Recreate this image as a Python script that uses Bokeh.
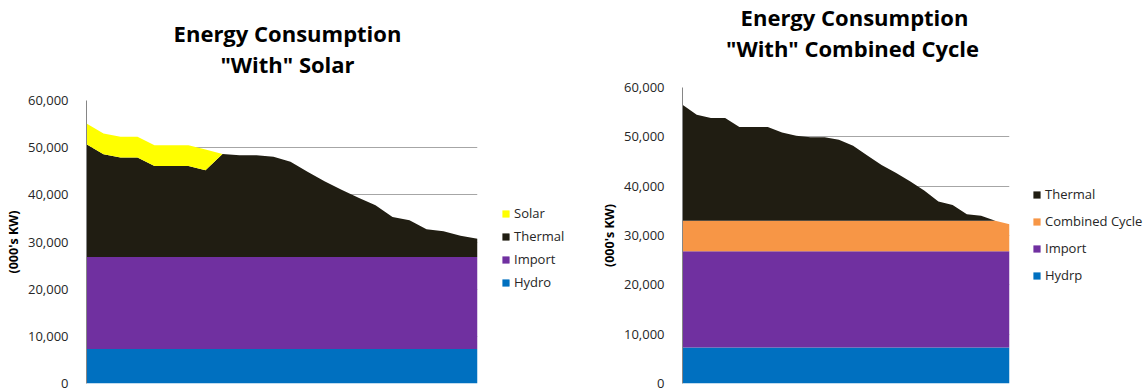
from bokeh.plotting import figure
from bokeh.layouts import row, column
from bokeh.models import (ColumnDataSource, Range1d, Legend, LegendItem, Label,
                          FixedTicker, NumeralTickFormatter)
from bokeh.core.properties import value
from bokeh.embed import file_html
from bokeh.resources import INLINE

# Hourly load profile, in thousands of kW
hours = [1, 2, 3, 4, 5, 6, 7, 8, 9, 10, 11, 12,
         13, 14, 15, 16, 17, 18, 19, 20, 21, 22, 23, 24]
y_ticks = [0, 10000, 20000, 30000, 40000, 50000, 60000]

# Scenario 1: with solar
solar_hydro = [7300, 7300, 7300, 7300, 7300, 7300, 7300, 7300, 7300, 7300, 7300, 7300,
               7300, 7300, 7300, 7300, 7300, 7300, 7300, 7300, 7300, 7300, 7300, 7300]
solar_import = [19500, 19500, 19500, 19500, 19500, 19500, 19500, 19500, 19500, 19500, 19500, 19500,
                19500, 19500, 19500, 19500, 19500, 19500, 19500, 19500, 19500, 19500, 19500, 19500]
solar_thermal = [23900, 21800, 21100, 21100, 19300, 19300, 19300, 18400, 21850, 21600, 21600, 21300,
                 20200, 18100, 16100, 14300, 12600, 11000, 8500, 7800, 5900, 5500, 4500, 3900]
solar_solar = [4400, 4400, 4400, 4400, 4400, 4400, 4400, 4400, 0, 0, 0, 0,
               0, 0, 0, 0, 0, 0, 0, 0, 0, 0, 0, 0]

# Scenario 2: with combined cycle
cc_hydro = [7300, 7300, 7300, 7300, 7300, 7300, 7300, 7300, 7300, 7300, 7300, 7300,
            7300, 7300, 7300, 7300, 7300, 7300, 7300, 7300, 7300, 7300, 7300, 7300]
cc_import = [19500, 19500, 19500, 19500, 19500, 19500, 19500, 19500, 19500, 19500, 19500, 19500,
             19500, 19500, 19500, 19500, 19500, 19500, 19500, 19500, 19500, 19500, 19500, 19500]
cc_combined = [6200, 6200, 6200, 6200, 6200, 6200, 6200, 6200, 6200, 6200, 6200, 6200,
               6200, 6200, 6200, 6200, 6200, 6200, 6200, 6200, 6200, 6200, 6200, 5500]
cc_thermal = [23500, 21500, 20800, 20800, 19000, 19000, 19000, 17900, 17200, 16900, 16900, 16400,
              15200, 13200, 11300, 9700, 8000, 6100, 3900, 3200, 1300, 1000, 0, 0]

FONT = "Open Sans"
C_HYDRO = "#0070C0"
C_IMPORT = "#7030A0"
C_THERMAL = "#201D12"
C_SOLAR = "#FFFF00"
C_CC = "#F79646"

HEIGHT = 392
PAD_TOP = 8      # room for the topmost tick label
BOTTOM = 9


def blank(width, height, x_range, y_range, left=0, right=0):
    f = figure(width=width, height=height, title=None, x_axis_type=None, y_axis_type=None,
               x_range=x_range, y_range=y_range,
               output_backend="svg", toolbar_location=None, min_border=0,
               min_border_left=left, min_border_right=right)
    f.outline_line_color = None
    f.background_fill_color = "white"
    f.border_fill_color = "white"
    return f


def make_title(width, left, frame_w, top_px, lines):
    """Strip above a chart holding its two-line title; coordinates are pixels."""
    h = top_px - PAD_TOP
    t = blank(width, h, Range1d(left, left + frame_w), Range1d(0, h),
              left=left, right=width - left - frame_w)
    for text, cx, cy in lines:
        t.add_layout(Label(x=cx, y=h - cy, text=text, text_align="center",
                           text_baseline="middle", text_font=FONT,
                           text_font_style="bold", text_font_size="22px",
                           text_color="#000000"))
    return t


def make_chart(width, left, frame_w, top_px, src, series):
    p = figure(width=width, height=HEIGHT - top_px + PAD_TOP, title=None,
               x_range=Range1d(hours[0], hours[-1]),
               y_range=Range1d(y_ticks[0], y_ticks[-1]),
               output_backend="svg", toolbar_location=None,
               min_border_left=left, min_border_right=width - left - frame_w,
               min_border_top=PAD_TOP, min_border_bottom=BOTTOM)
    p.background_fill_color = "white"
    p.border_fill_color = "white"
    p.outline_line_color = None

    p.varea_stack(stackers=[s[0] for s in series], x="hour",
                  color=[s[2] for s in series], source=src)

    p.xaxis.visible = False
    p.xgrid.visible = False
    p.ygrid.ticker = FixedTicker(ticks=y_ticks)
    p.ygrid.grid_line_color = "#a6a6a6"

    ax = p.yaxis[0]
    ax.ticker = FixedTicker(ticks=y_ticks)
    ax.formatter = NumeralTickFormatter(format="0,0")
    ax.axis_line_color = "#868686"
    ax.major_tick_line_color = None
    ax.minor_tick_line_color = None
    ax.major_label_text_font = FONT
    ax.major_label_text_font_size = "13px"
    ax.major_label_text_color = "#262626"
    ax.major_label_standoff = 12
    ax.axis_label = "(000's KW)"
    ax.axis_label_text_font = FONT
    ax.axis_label_text_font_size = "12.5px"
    ax.axis_label_text_font_style = "bold"
    ax.axis_label_text_color = "#000000"
    ax.axis_label_standoff = 3
    return p


def make_legend(width, src, series, x, y, spacing):
    """Legend column beside a chart; its stacked areas lie outside the visible range."""
    lf = blank(width, HEIGHT, Range1d(-1, 0), Range1d(0, 1))
    rends = lf.varea_stack(stackers=[s[0] for s in series], x="hour",
                           color=[s[2] for s in series], source=src)
    items = [LegendItem(label=value(s[1]), renderers=[r]) for s, r in zip(series, rends)]
    lf.add_layout(Legend(items=list(reversed(items)), location=(x, y),
                         glyph_width=9, glyph_height=9, label_standoff=4,
                         label_text_font=FONT, label_text_font_size="13px",
                         label_text_color="#262626", label_height=16,
                         spacing=spacing, padding=0, margin=0,
                         border_line_color=None, background_fill_alpha=0))
    return lf


solar_series = [("hydro", "Hydro", C_HYDRO), ("import", "Import", C_IMPORT),
                ("thermal", "Thermal", C_THERMAL), ("solar", "Solar", C_SOLAR)]
solar_src = ColumnDataSource({"hour": hours, "hydro": solar_hydro, "import": solar_import,
                              "thermal": solar_thermal, "solar": solar_solar})

cc_series = [("hydro", "Hydrp", C_HYDRO), ("import", "Import", C_IMPORT),
             ("combined", "Combined Cycle", C_CC), ("thermal", "Thermal", C_THERMAL)]
cc_src = ColumnDataSource({"hour": hours, "hydro": cc_hydro, "import": cc_import,
                           "combined": cc_combined, "thermal": cc_thermal})

left_block = column(
    make_title(490, 86, 391, 100, [("Energy Consumption", 287, 32), ('"With" Solar', 287, 63)]),
    make_chart(490, 86, 391, 100, solar_src, solar_series))
left_legend = make_legend(100, solar_src, solar_series, 11, 101, 5)

right_block = column(
    make_title(440, 92, 327, 87, [("Energy Consumption", 264, 16.5), ('"With" Combined Cycle', 262, 47.5)]),
    make_chart(440, 92, 327, 87, cc_src, cc_series))
right_legend = make_legend(116, cc_src, cc_series, 2, 108, 9)

layout = row(left_block, left_legend, right_block, right_legend)
open("out.html", "w").write(file_html(layout, INLINE))
